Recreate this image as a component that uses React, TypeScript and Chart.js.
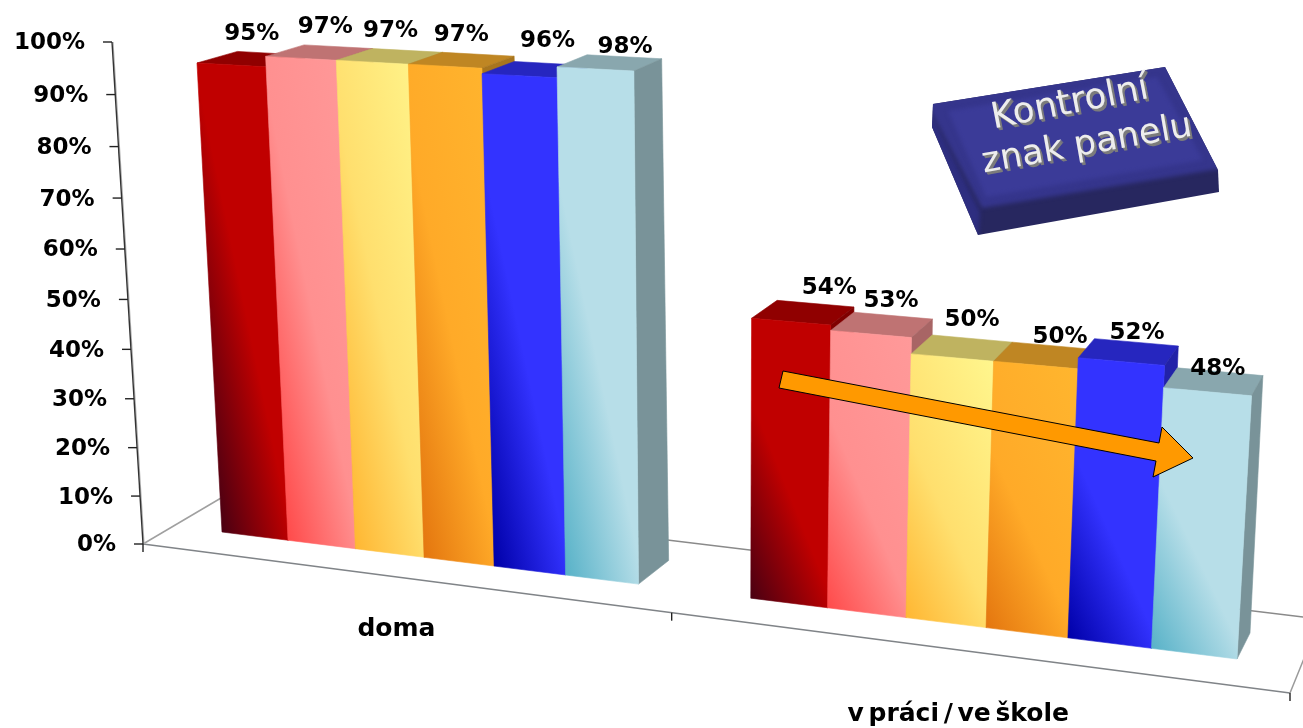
import React, { useEffect, useRef } from "react";
import { Chart, registerables } from "chart.js";

Chart.register(...registerables);

// ---- data ----
const categories = ["doma", "v práci / ve škole"];
const seriesA = [95, 54];
const seriesB = [97, 53];
const seriesC = [97, 50];
const seriesD = [97, 50];
const seriesE = [96, 52];
const seriesF = [98, 48];
const allSeries = [seriesA, seriesB, seriesC, seriesD, seriesE, seriesF];
const yTicksStep = 10;
const panelLines = ["Kontrolní", "znak panelu"];

// ---- styles ----
const baseColors = ["#C00000", "#FF9999", "#FFEE80", "#FFB22E", "#3333FF", "#B7DEE8"];
const darkColors = ["#4A0012", "#FF4B4B", "#FFB733", "#E4760F", "#0000A8", "#58B2C8"];
const midColors = ["#C00000", "#FF9090", "#FFDF6E", "#FFAA28", "#3333FF", "#B7DEE8"];
const lightColors = ["#C00000", "#FF9999", "#FFF58C", "#FFB52E", "#3333FF", "#B7DEE8"];
const FONT = '"DejaVu Sans", sans-serif';

// ---- perspective of the 3-D box: scale (u,v) -> screen ----
type P = { x: number; y: number };
const K = -0.13;
const M = -0.05;
const plane = (o: P, ue: P, ve: P, k = K) => (u: number, v: number): P => {
  const w = 1 + k * u + M * v;
  return {
    x: (o.x + (ue.x * (1 + k) - o.x) * u + (ve.x * (1 + M) - o.x) * v) / w,
    y: (o.y + (ue.y * (1 + k) - o.y) * u + (ve.y * (1 + M) - o.y) * v) / w,
  };
};
const barFront = plane({ x: 222, y: 532 }, { x: 1237, y: 659 }, { x: 195.6, y: 37 });
const barBack = plane({ x: 264, y: 510 }, { x: 1250, y: 633 }, { x: 236, y: 26 });
const boxFront = plane({ x: 143, y: 544 }, { x: 1290, y: 693 }, { x: 112, y: 42 }, -0.145);
const boxBack = plane({ x: 238, y: 488 }, { x: 1320, y: 619 }, { x: 207, y: 0 });

// label nudges (layout of the hand-placed labels in the source slide)
const valueNudges = [
  [[-19, -19], [14, -16]],
  [[-13, -20], [-2, -15]],
  [[-17, -19], [0, -19]],
  [[-17, -19], [7, -9]],
  [[-3, -22], [1, -9]],
  [[1, -10], [-2, -3]],
];
const categoryNudges = [[-1, 52], [-10, 63]];

const shade = (hex: string, f: number) => {
  const n = parseInt(hex.slice(1), 16);
  return `rgb(${Math.round(((n >> 16) & 255) * f)},${Math.round(((n >> 8) & 255) * f)},${Math.round((n & 255) * f)})`;
};

const poly = (ctx: CanvasRenderingContext2D, pts: P[], fill: any, stroke = true) => {
  ctx.beginPath();
  pts.forEach((p, i) => (i ? ctx.lineTo(p.x, p.y) : ctx.moveTo(p.x, p.y)));
  ctx.closePath();
  ctx.fillStyle = fill;
  ctx.fill();
  if (stroke) {
    ctx.strokeStyle = fill;
    ctx.lineWidth = 0.6;
    ctx.stroke();
  }
};

const seg = (ctx: CanvasRenderingContext2D, a: P, b: P, color: string, width: number) => {
  ctx.beginPath();
  ctx.moveTo(a.x, a.y);
  ctx.lineTo(b.x, b.y);
  ctx.strokeStyle = color;
  ctx.lineWidth = width;
  ctx.stroke();
};

const drawBox = (chart: any) => {
  const ctx: CanvasRenderingContext2D = chart.ctx;
  const yScale = chart.scales.y;
  const area = chart.chartArea;
  const vOf = (val: number) => (area.bottom - yScale.getPixelForValue(val)) / (area.bottom - area.top);

  // floor
  seg(ctx, boxFront(0, 0), boxFront(1, 0), "#808488", 1.6);
  seg(ctx, boxFront(0, 0), boxBack(0, 0), "#a0a0a0", 1.5);
  seg(ctx, boxBack(0, 0), boxBack(1, 0), "#8a8a8a", 1.6);
  seg(ctx, boxFront(1, 0), boxBack(1, 0), "#9a9a9a", 1.5);
  [0, 0.5, 1].forEach((u) => {
    const p = boxFront(u, 0);
    seg(ctx, p, { x: p.x, y: p.y + 8 }, "#222", 1.4);
  });

  // value axis, ticks and labels
  const top = boxFront(0, 1);
  const bot = boxFront(0, 0);
  seg(ctx, { x: top.x + 1, y: top.y }, { x: bot.x + 1, y: bot.y }, "#b0b0b0", 1.2);
  seg(ctx, top, bot, "#333", 1.4);
  ctx.font = `bold 23px ${FONT}`;
  ctx.textAlign = "right";
  ctx.textBaseline = "middle";
  yScale.getTicks().forEach((t: any) => {
    const p = boxFront(0, vOf(t.value));
    seg(ctx, { x: p.x - 9, y: p.y }, p, "#222", 1.4);
    ctx.fillStyle = "#000";
    ctx.fillText(t.label, p.x - 27, p.y + 1.5);
  });

  // category labels
  ctx.font = `bold 25px ${FONT}`;
  ctx.textAlign = "center";
  (ctx as any).wordSpacing = "-4px";
  categories.forEach((c, i) => {
    const px = chart.scales.x.getPixelForValue(i);
    const p = boxFront((px - area.left) / (area.right - area.left), 0);
    ctx.fillStyle = "#000";
    ctx.fillText(c, p.x + categoryNudges[i][0], p.y + categoryNudges[i][1]);
  });
  (ctx as any).wordSpacing = "0px";
};

const drawBars = (chart: any) => {
  const ctx: CanvasRenderingContext2D = chart.ctx;
  const area = chart.chartArea;
  const W = area.right - area.left;
  const H = area.bottom - area.top;
  const uOf = (x: number) => ((x - area.left) / W - 0.05) / 0.9;
  const vOf = (y: number) => (area.bottom - y) / H;

  categories.forEach((_, c) => {
    allSeries.forEach((_s, d) => {
      const el = chart.getDatasetMeta(d).data[c];
      const u0 = uOf(el.x - el.width / 2);
      const u1 = uOf(el.x + el.width / 2);
      const v = vOf(el.y);
      const base = chart.data.datasets[d].backgroundColor as string;
      poly(ctx, [barFront(u0, v), barFront(u1, v), barBack(u1, v), barBack(u0, v)], shade(base, 0.75));
      poly(ctx, [barFront(u1, 0), barFront(u1, v), barBack(u1, v), barBack(u1, 0)], shade(base, 0.66));
      const bl = barFront(u0, 0);
      const br = barFront(u1, 0);
      const tl = barFront(u0, v);
      const a = 0.95 / (br.x - bl.x);
      const b = 1.4 / (bl.y - tl.y);
      const q = a * a + b * b;
      const span = 2.35;
      const g = ctx.createLinearGradient(bl.x, bl.y, bl.x + (span * a) / q, bl.y - (span * b) / q);
      g.addColorStop(0, darkColors[d]);
      g.addColorStop(1 / span, midColors[d]);
      g.addColorStop(1, lightColors[d]);
      poly(ctx, [bl, br, barFront(u1, v), tl], g);
    });
  });

  // value labels
  ctx.font = `bold 23px ${FONT}`;
  ctx.textAlign = "center";
  ctx.textBaseline = "middle";
  ctx.fillStyle = "#000";
  categories.forEach((_, c) => {
    allSeries.forEach((s, d) => {
      const el = chart.getDatasetMeta(d).data[c];
      const p = barBack(uOf(el.x), vOf(el.y));
      ctx.fillText(`${s[c]}%`, p.x + valueNudges[d][c][0], p.y + valueNudges[d][c][1]);
    });
  });
};

const drawArrow = (ctx: CanvasRenderingContext2D) => {
  const pts = [
    { x: 783, y: 371 }, { x: 1159, y: 443 }, { x: 1162, y: 427 }, { x: 1193, y: 458 },
    { x: 1153, y: 477 }, { x: 1156, y: 461 }, { x: 779, y: 388 },
  ];
  poly(ctx, pts, "#FF9900", false);
  ctx.strokeStyle = "#000";
  ctx.lineWidth = 1;
  ctx.stroke();
};

const drawPanel = (ctx: CanvasRenderingContext2D) => {
  // silhouette first, so that no seam shows between the faces
  poly(
    ctx,
    [
      { x: 933, y: 104 }, { x: 1165, y: 67 }, { x: 1218, y: 170 }, { x: 1219, y: 192 },
      { x: 978, y: 235 }, { x: 932, y: 127 },
    ],
    "#27275F",
    false
  );
  ctx.save();
  ctx.beginPath();
  ctx.moveTo(933, 104);
  ctx.lineTo(1165, 67);
  ctx.lineTo(1218, 170);
  ctx.lineTo(1219, 192);
  ctx.lineTo(978, 235);
  ctx.lineTo(932, 127);
  ctx.closePath();
  ctx.clip();
  (ctx as any).filter = "blur(2px)";
  poly(ctx, [{ x: 925, y: 100 }, { x: 980, y: 212 }, { x: 978, y: 245 }, { x: 925, y: 135 }], "#2E2E80", false);
  poly(ctx, [{ x: 925, y: 100 }, { x: 1170, y: 60 }, { x: 1225, y: 168 }, { x: 982, y: 208 }], "#35358C", false);
  poly(ctx, [{ x: 948, y: 111 }, { x: 1157, y: 77 }, { x: 1203, y: 160 }, { x: 986, y: 197 }], "#3B3B98", false);
  ctx.restore();
  const place = (text: string, x: number, y: number, deg: number, size: number) => {
    ctx.save();
    ctx.translate(x, y);
    ctx.rotate((deg * Math.PI) / 180);
    ctx.font = `${size}px ${FONT}`;
    ctx.textAlign = "center";
    ctx.textBaseline = "middle";
    ctx.fillStyle = "#7c7c7c";
    [[2, 3], [1.5, 2], [1, 1]].forEach(([dx, dy]) => ctx.fillText(text, dx, dy));
    ctx.fillStyle = "#EDEDED";
    ctx.fillText(text, 0, 0);
    ctx.restore();
  };
  place(panelLines[0], 1070, 104, -11, 36);
  place(panelLines[1], 1087, 145, -10, 35);
};

const box3d = {
  id: "box3d",
  beforeDatasetsDraw(chart: any) {
    drawBox(chart);
    drawBars(chart);
    drawArrow(chart.ctx);
    drawPanel(chart.ctx);
    return false;
  },
};

export default function App() {
  const ref = useRef<HTMLCanvasElement>(null);
  useEffect(() => {
    const chart = new Chart(ref.current as HTMLCanvasElement, {
      type: "bar",
      data: {
        labels: categories,
        datasets: allSeries.map((s, i) => ({
          label: `Series ${i + 1}`,
          data: s,
          backgroundColor: baseColors[i],
          categoryPercentage: 0.8,
          barPercentage: 1,
        })),
      },
      options: {
        responsive: false,
        animation: false,
        layout: { padding: 0 },
        plugins: { legend: { display: false }, tooltip: { enabled: false } },
        scales: {
          x: { display: false },
          y: {
            display: false,
            min: 0,
            max: 100,
            ticks: { stepSize: yTicksStep, callback: (v: any) => `${v}%` },
          },
        },
      },
      plugins: [box3d],
    } as any);
    return () => chart.destroy();
  }, []);
  return (
    <canvas
      ref={ref}
      width={1303}
      height={728}
      style={{ position: "fixed", left: 0, top: 0, display: "block" }}
    />
  );
}
